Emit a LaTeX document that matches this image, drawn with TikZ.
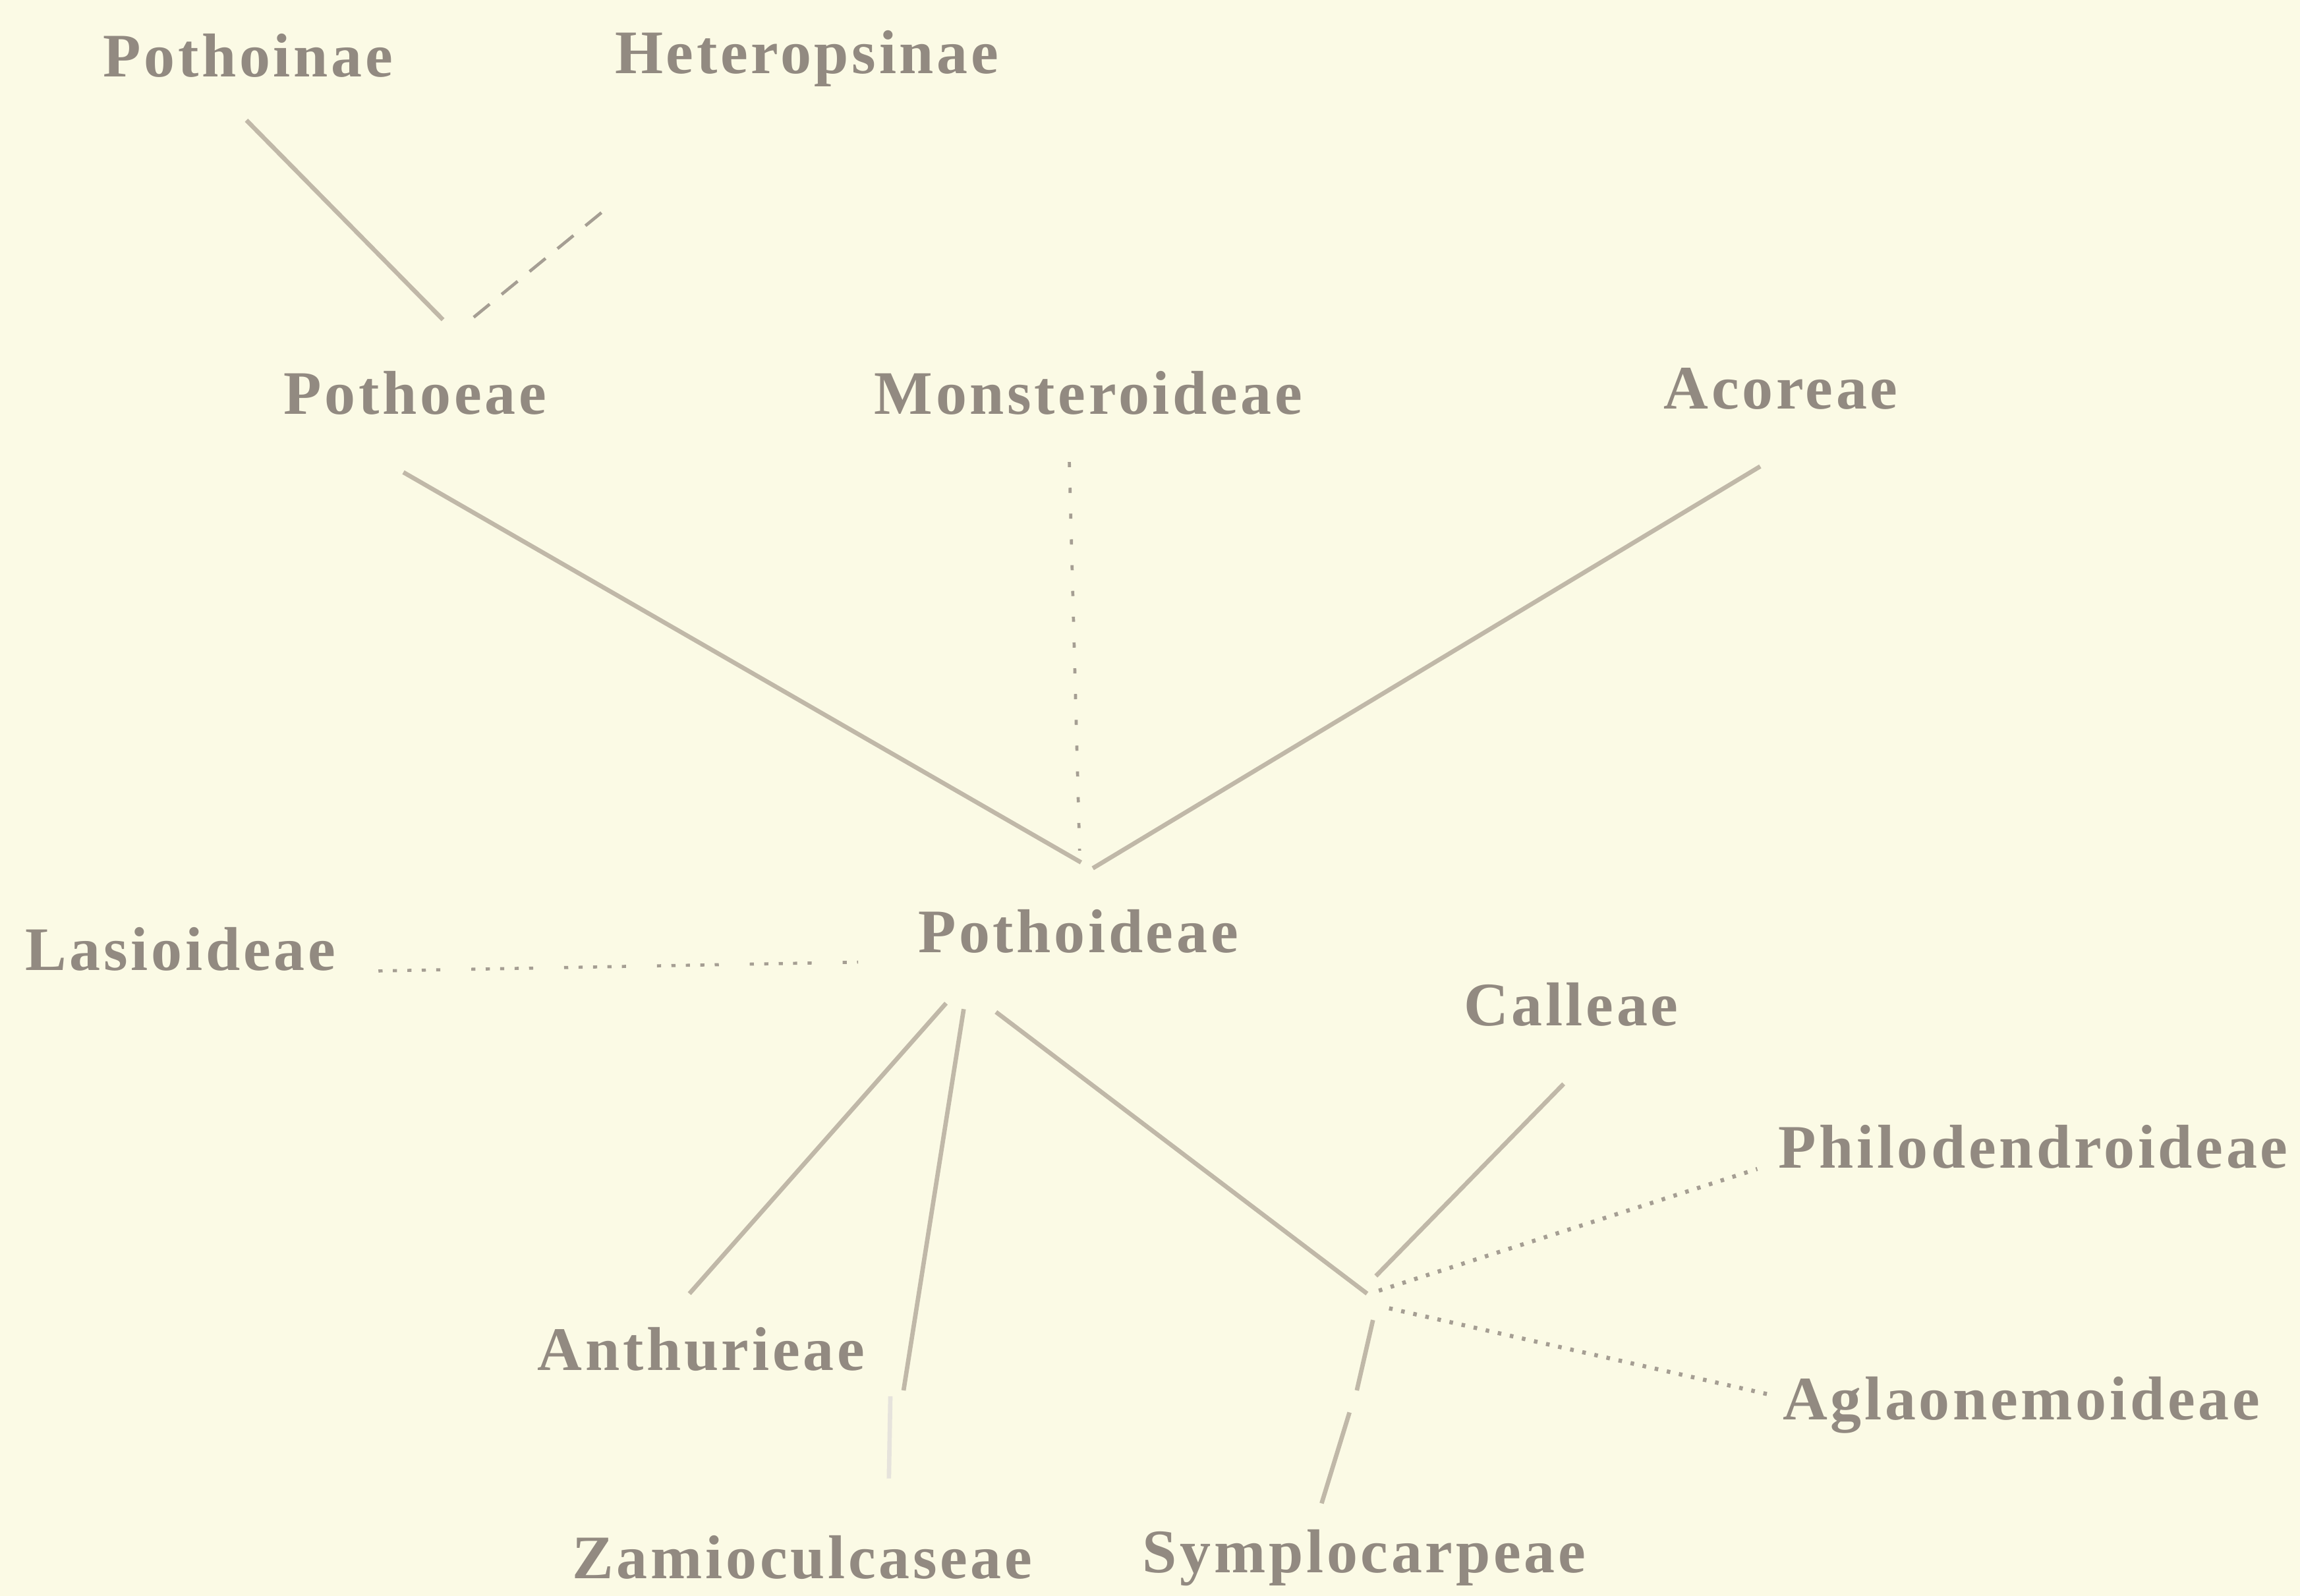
\documentclass[tikz,border=0pt]{standalone}
\usepackage{fontspec}
\newfontfamily\taxonfont{Liberation Serif}[LetterSpace=5]
\usepackage{xcolor}
\usetikzlibrary{positioning}
\definecolor{paper}{HTML}{FBFAE5}
\definecolor{inkText}{HTML}{928A81}
\definecolor{inkLine}{HTML}{C0B8A8}
\definecolor{inkDot}{HTML}{A59E93}

\begin{document}
\begin{tikzpicture}[x=0.01cm,y=-0.01cm,
  taxon/.style={font=\taxonfont\bfseries\fontsize{12}{14}\selectfont,text=inkText,inner sep=1pt},
  branch/.style={inkLine,line width=0.85pt},
  faint/.style={inkLine!40,line width=0.85pt},
  dashlink/.style={inkDot,line width=0.6pt,dash pattern=on 4pt off 3pt},
  dotlink/.style={inkDot,line width=0.8pt,dash pattern=on 0.7pt off 1.7pt},
  sparselink/.style={inkDot,line width=0.6pt,dash pattern=on 1pt off 4pt},
  grouplink/.style={inkDot,line width=0.6pt,
    dash pattern=on 0.8pt off 2pt on 0.8pt off 2pt on 0.8pt off 2pt on 0.8pt off 2pt on 0.8pt off 6pt}]
  \fill[paper] (0,0) rectangle (1568,1088);
  % taxa
  \node[taxon] (pothoinae)    at (169,38)   {Pothoinae};
  \node[taxon] (heteropsinae) at (550,40)   {Heteropsinae};
  \node[taxon] (pothoeae)     at (283,268)  {Pothoeae};
  \node[taxon] (monsteroid)   at (742,268)  {Monsteroideae};
  \node[taxon] (acoreae)      at (1214,265) {Acoreae};
  \node[taxon] (lasioid)      at (123,647)  {Lasioideae};
  \node[taxon] (pothoid)      at (735,635)  {Pothoideae};
  \node[taxon] (calleae)      at (1071,685) {Calleae};
  \node[taxon] (philodend)    at (1386,782) {Philodendroideae};
  \node[taxon] (anthurieae)   at (478,920)  {Anthurieae};
  \node[taxon] (aglaonem)     at (1378,958) {Aglaonemoideae};
  \node[taxon] (zamiocul)     at (547,1062) {Zamioculcaseae};
  \node[taxon] (symplocarp)   at (930,1062) {Symplocarpeae};
  % branch ends
  \coordinate (pothoinae-e)  at (168,82);
  \coordinate (pothoeae-l)   at (302,218);
  \coordinate (heterop-e)    at (410,145);
  \coordinate (pothoeae-r)   at (316,222);
  \coordinate (pothoeae-e)   at (275,322);
  \coordinate (monster-e)    at (729,315);
  \coordinate (acoreae-e)    at (1200,318);
  \coordinate (pothoid-l)    at (737,588);
  \coordinate (pothoid-m)    at (736,580);
  \coordinate (pothoid-r)    at (745,592);
  \coordinate (lasioid-e)    at (258,662);
  \coordinate (pothoid-w)    at (585,656);
  \coordinate (pothoid-s1)   at (645,684);
  \coordinate (pothoid-s2)   at (657,688);
  \coordinate (pothoid-s3)   at (679,690);
  \coordinate (anthur-e)     at (470,882);
  \coordinate (zamio-a)      at (616,948);
  \coordinate (zamio-b)      at (607,952);
  \coordinate (zamio-e)      at (606,1008);
  \coordinate (hub)          at (932,882);
  \coordinate (calleae-e)    at (1066,739);
  \coordinate (calleae-h)    at (938,870);
  \coordinate (philo-h)      at (940,880);
  \coordinate (philo-e)      at (1198,797);
  \coordinate (aglao-h)      at (947,892);
  \coordinate (aglao-e)      at (1207,951);
  \coordinate (symplo-h)     at (936,900);
  \coordinate (symplo-a)     at (925,948);
  \coordinate (symplo-b)     at (920,963);
  \coordinate (symplo-e)     at (901,1025);
  % branches
  \draw[branch] (pothoinae-e) -- (pothoeae-l);
  \draw[dashlink] (heterop-e) -- (pothoeae-r);
  \draw[branch] (pothoeae-e) -- (pothoid-l);
  \draw[sparselink] (monster-e) -- (pothoid-m);
  \draw[branch] (acoreae-e) -- (pothoid-r);
  \draw[grouplink] (lasioid-e) -- (pothoid-w);
  \draw[branch] (pothoid-s1) -- (anthur-e);
  \draw[branch] (pothoid-s2) -- (zamio-a);
  \draw[faint] (zamio-b) -- (zamio-e);
  \draw[branch] (pothoid-s3) -- (hub);
  \draw[branch] (calleae-e) -- (calleae-h);
  \draw[dotlink] (philo-h) -- (philo-e);
  \draw[dotlink] (aglao-h) -- (aglao-e);
  \draw[branch] (symplo-h) -- (symplo-a);
  \draw[branch] (symplo-b) -- (symplo-e);
\end{tikzpicture}
\end{document}
